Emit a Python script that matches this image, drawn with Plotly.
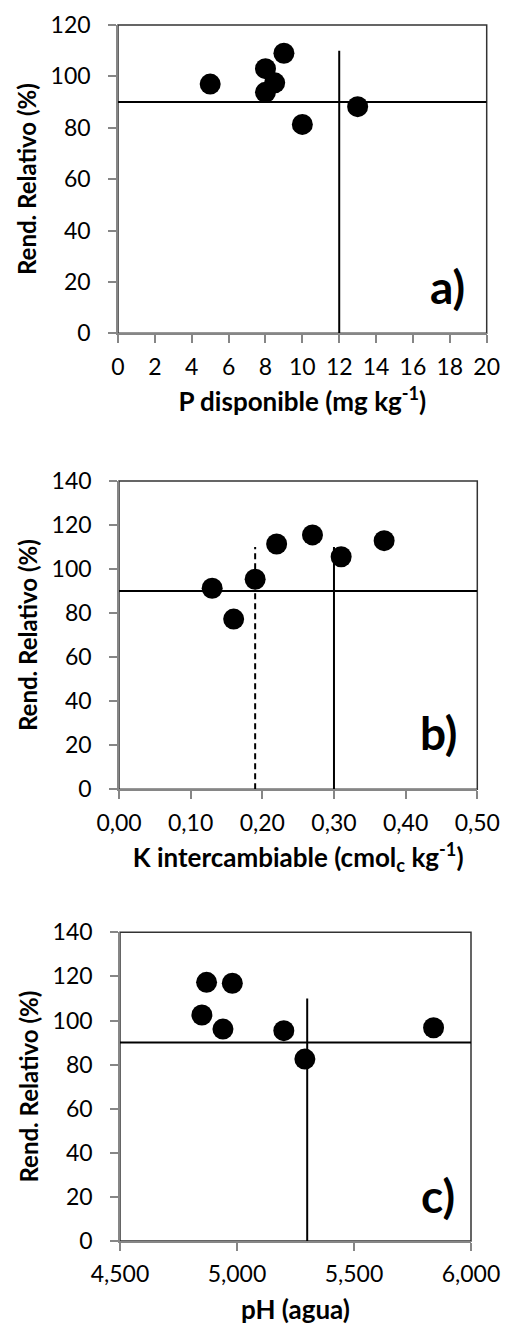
import plotly.graph_objects as go

# Panel a) available P vs relative yield
p_disp = [5, 8, 8.5, 8, 9, 10, 13]
rend_a = [97, 103, 97.5, 93.8, 109, 81.3, 88.2]
p_crit = 12

# Panel b) exchangeable K vs relative yield
k_int = [0.13, 0.16, 0.19, 0.22, 0.27, 0.31, 0.37]
rend_b = [91.3, 77.3, 95.4, 111.4, 115.5, 105.6, 112.9]
k_crit_low = 0.19
k_crit = 0.30

# Panel c) soil pH (water) vs relative yield
ph_agua = [4.87, 4.98, 4.85, 4.94, 5.20, 5.29, 5.84]
rend_c = [117.3, 116.9, 102.5, 96.1, 95.4, 82.5, 96.7]
ph_crit = 5.30

rend_ref = 90      # horizontal reference yield (%)
crit_top = 110     # upper end of the critical-level lines

xticks_a = [0, 2, 4, 6, 8, 10, 12, 14, 16, 18, 20]
xticks_b = [0.0, 0.1, 0.2, 0.3, 0.4, 0.5]
xtext_b = ["0,00", "0,10", "0,20", "0,30", "0,40", "0,50"]
xticks_c = [4.5, 5.0, 5.5, 6.0]
xtext_c = ["4,500", "5,000", "5,500", "6,000"]
yticks_a = [0, 20, 40, 60, 80, 100, 120]
yticks_bc = [0, 20, 40, 60, 80, 100, 120, 140]

W, H = 505, 1328
FONT = "Lato, Carlito, 'Liberation Sans', sans-serif"
AXIS_GREY = "#868686"
TICK_FONT = dict(family=FONT, size=23, color="#000000")
XTITLE_FONT = dict(family=FONT, size=26, color="#000000", weight="bold")
YTITLE_FONT = dict(family=FONT, size=24, color="#000000", weight="bold")


def xdom(left, right):
    return [left / W, right / W]


def ydom(top, bottom):
    return [1 - bottom / H, 1 - top / H]


panels = [
    dict(x=p_disp, y=rend_a, xr=[0, 20], yr=[0, 120], xt=xticks_a, xtt=[str(v) for v in xticks_a],
         yt=yticks_a, xd=xdom(118, 486.7), yd=ydom(25, 333.3),
         xtitle="P disponible (mg kg<sup>-1</sup>)", label="a)",
         crit=[(p_crit, "solid")], lpos=(0.894, 0.152)),
    dict(x=k_int, y=rend_b, xr=[0, 0.5], yr=[0, 140], xt=xticks_b, xtt=xtext_b,
         yt=yticks_bc, xd=xdom(119, 477.3), yd=ydom(481, 789.3),
         xtitle="K intercambiable (cmol<sub>c</sub> kg<sup>-1</sup>)", label="b)",
         crit=[(k_crit_low, "6px,4px"), (k_crit, "solid")], lpos=(0.892, 0.183)),
    dict(x=ph_agua, y=rend_c, xr=[4.5, 6.0], yr=[0, 140], xt=xticks_c, xtt=xtext_c,
         yt=yticks_bc, xd=xdom(120, 471), yd=ydom(932.3, 1241),
         xtitle="pH (agua)", label="c)",
         crit=[(ph_crit, "solid")], lpos=(0.907, 0.146)),
]

fig = go.Figure()
layout = dict(
    width=W, height=H, margin=dict(l=0, r=0, t=0, b=0, autoexpand=False),
    paper_bgcolor="white", plot_bgcolor="white", showlegend=False,
    font=dict(family=FONT, color="#000000"),
    shapes=[], annotations=[],
)

for i, p in enumerate(panels, start=1):
    sx = "" if i == 1 else str(i)
    xa, ya = "x" + sx, "y" + sx

    # horizontal reference at 90 %
    fig.add_trace(go.Scatter(x=p["xr"], y=[rend_ref, rend_ref], mode="lines",
                             line=dict(color="black", width=2), xaxis=xa, yaxis=ya,
                             hoverinfo="skip"))
    # critical-level verticals
    for xc, dash in p["crit"]:
        fig.add_trace(go.Scatter(x=[xc, xc], y=[0, crit_top], mode="lines",
                                 line=dict(color="black", width=2, dash=dash),
                                 xaxis=xa, yaxis=ya, hoverinfo="skip"))
    # observations
    fig.add_trace(go.Scatter(x=p["x"], y=p["y"], mode="markers",
                             marker=dict(color="black", size=21, line=dict(width=0)),
                             xaxis=xa, yaxis=ya))

    layout["xaxis" + sx] = dict(
        domain=p["xd"], anchor=ya, range=p["xr"], tickvals=p["xt"], ticktext=p["xtt"],
        automargin=False,
        showgrid=False, zeroline=False, showline=True, linecolor=AXIS_GREY, linewidth=1.5,
        ticks="outside", ticklen=8, tickwidth=1.5, tickcolor=AXIS_GREY,
        tickfont=TICK_FONT, ticklabelstandoff=4,
        title=dict(text=p["xtitle"], font=XTITLE_FONT, standoff=14),
    )
    layout["yaxis" + sx] = dict(
        domain=p["yd"], anchor=xa, range=p["yr"], tickvals=p["yt"],
        automargin=False,
        showgrid=False, zeroline=False, showline=True, linecolor=AXIS_GREY, linewidth=1.5,
        ticks="outside", ticklen=8, tickwidth=1.5, tickcolor=AXIS_GREY,
        tickfont=TICK_FONT, ticklabelstandoff=13,
        title=dict(text="Rend. Relativo (%)", font=YTITLE_FONT, standoff=7),
    )
    # plot-area frame (top and right edges visible; axis lines cover the others)
    layout["shapes"].append(dict(type="rect", xref=xa + " domain", yref=ya + " domain",
                                 x0=0, x1=1, y0=0, y1=1, layer="below",
                                 line=dict(color="#333333", width=1.5)))
    layout["annotations"].append(dict(text=p["label"], xref=xa + " domain",
                                      yref=ya + " domain", x=p["lpos"][0], y=p["lpos"][1],
                                      xanchor="center", yanchor="middle", showarrow=False,
                                      font=dict(family=FONT, size=46, color="black",
                                                weight="bold")))

fig.update_layout(**layout)
fig.write_html("out.html")
